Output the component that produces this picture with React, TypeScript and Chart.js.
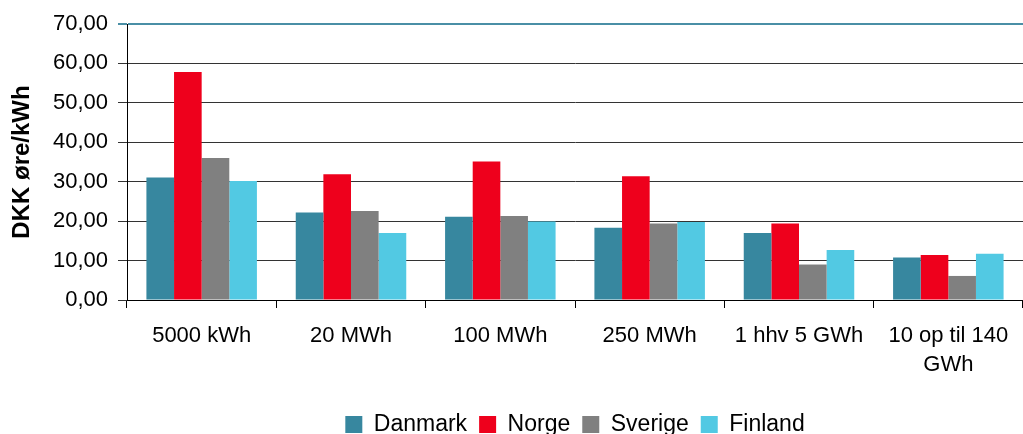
import React, { useEffect, useRef } from "react";
import { Chart, registerables } from "chart.js";

Chart.register(...registerables);

const categories: (string | string[])[] = [
  "5000 kWh",
  "20 MWh",
  "100 MWh",
  "250 MWh",
  "1 hhv 5 GWh",
  ["10 op til 140", "GWh"],
];

const danmark = [31.1, 22.2, 21.1, 18.3, 17.0, 10.8];
const norge = [57.8, 31.9, 35.1, 31.4, 19.4, 11.4];
const sverige = [36.0, 22.6, 21.3, 19.4, 9.0, 6.1];
const finland = [30.2, 17.0, 19.9, 19.8, 12.7, 11.7];

const seriesNames = ["Danmark", "Norge", "Sverige", "Finland"];
const yTitle = "DKK øre/kWh";

const FONT = "'Liberation Sans', Arial, Helvetica, sans-serif";

export default function App() {
  const ref = useRef<HTMLCanvasElement | null>(null);

  useEffect(() => {
    if (!ref.current) return;
    const chart = new Chart(ref.current, {
      type: "bar",
      data: {
        labels: categories,
        datasets: [
          { label: seriesNames[0], data: danmark, backgroundColor: "#37879f" },
          { label: seriesNames[1], data: norge, backgroundColor: "#ee001c" },
          { label: seriesNames[2], data: sverige, backgroundColor: "#808080" },
          { label: seriesNames[3], data: finland, backgroundColor: "#52c9e3" },
        ],
      },
      options: {
        responsive: false,
        maintainAspectRatio: false,
        animation: false,
        devicePixelRatio: 1,
        layout: { padding: { top: 24, left: 0, right: 0, bottom: 0 } },
        datasets: {
          bar: { categoryPercentage: 0.74, barPercentage: 1.0 },
        },
        plugins: {
          tooltip: { enabled: false },
          legend: {
            position: "bottom",
            fullSize: false,
            labels: {
              boxWidth: 17,
              boxHeight: 17,
              padding: 12,
              color: "#000",
              font: { family: FONT, size: 23 },
            },
          },
        },
        scales: {
          x: {
            offset: true,
            grid: {
              offset: true,
              drawOnChartArea: false,
              drawTicks: true,
              tickLength: 8,
              color: "#000",
            },
            border: { color: "#000", width: 1 },
            ticks: {
              color: "#000",
              padding: 14,
              maxRotation: 0,
              autoSkip: false,
              font: { family: FONT, size: 22, lineHeight: 1.3 },
            },
            afterFit: (s: any) => {
              s.height = 101;
            },
          },
          y: {
            min: 0,
            max: 70,
            ticks: {
              stepSize: 10,
              color: "#000",
              padding: 10,
              font: { family: FONT, size: 22 },
              callback: (v: any) => Number(v).toFixed(2).replace(".", ","),
            },
            grid: {
              tickLength: 9,
              color: (ctx: any) => (ctx.tick && ctx.tick.value === 70 ? "#4a8fa6" : "#333"),
              lineWidth: (ctx: any) => (ctx.tick && ctx.tick.value === 70 ? 2 : 1),
            },
            border: { color: "#000", width: 1 },
            title: {
              display: true,
              text: yTitle,
              color: "#000",
              padding: { top: 8, bottom: 0 },
              font: { family: FONT, size: 24, weight: "bold" },
            },
            afterFit: (s: any) => {
              s.width = 127;
            },
          },
        },
      },
    });
    return () => chart.destroy();
  }, []);

  return (
    <div
      style={{
        position: "fixed",
        left: 0,
        top: 0,
        width: 1023,
        height: 434,
        overflow: "hidden",
        background: "#fff",
      }}
    >
      <canvas ref={ref} width={1023} height={446} style={{ display: "block" }} />
    </div>
  );
}
